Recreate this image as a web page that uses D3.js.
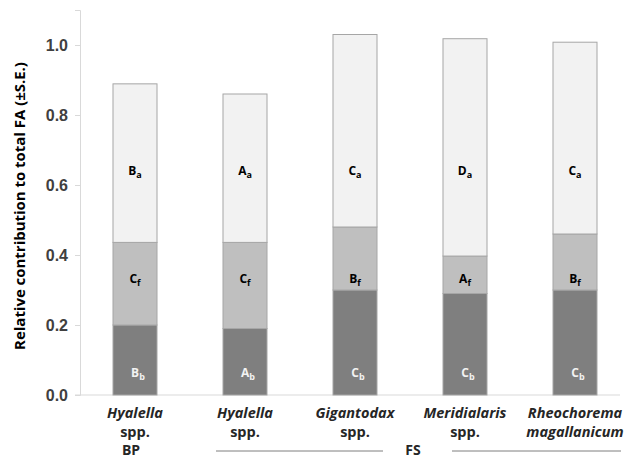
<!DOCTYPE html>
<html lang="en">
  <head>
    <meta charset="UTF-8" />
    <title>FA contribution</title>
    <style>
      body { margin: 0; background: #fff; }
      svg { display: block; font-family: "Open Sans", sans-serif; }
    </style>
  </head>
  <body>
    <div class="container"></div>
    <script src="https://d3js.org/d3.v7.min.js"></script>
    <script>
      const taxa = [
        ["Hyalella", "spp."],
        ["Hyalella", "spp."],
        ["Gigantodax", "spp."],
        ["Meridialaris", "spp."],
        ["Rheochorema", "magallanicum"]
      ];
      const bottomVals = [0.20, 0.19, 0.30, 0.29, 0.30];
      const middleVals = [0.236, 0.246, 0.18, 0.107, 0.16];
      const topVals = [0.453, 0.424, 0.55, 0.621, 0.548];
      const bottomLabels = [["B", "b"], ["A", "b"], ["C", "b"], ["C", "b"], ["C", "b"]];
      const middleLabels = [["C", "f"], ["C", "f"], ["B", "f"], ["A", "f"], ["B", "f"]];
      const topLabels = [["B", "a"], ["A", "a"], ["C", "a"], ["D", "a"], ["C", "a"]];
      const yTicks = [0, 0.2, 0.4, 0.6, 0.8, 1.0];

      const w = 629, h = 459;
      const left = 80, right = 630, bottom = 395;

      const svg = d3.select(".container").append("svg")
        .attr("width", w).attr("height", h);

      const xScale = d3.scaleBand()
        .domain(d3.range(taxa.length))
        .range([left, right])
        .paddingInner(0.6).paddingOuter(0.3);

      const yScale = d3.scaleLinear()
        .domain([0, 1.1])
        .range([bottom, bottom - 385]);

      // stacked data
      const rows = taxa.map((t, i) => ({ i, b: bottomVals[i], m: middleVals[i], t: topVals[i] }));
      const stack = d3.stack().keys(["b", "m", "t"])(rows);
      const fills = { b: "#7f7f7f", m: "#bfbfbf", t: "#f2f2f2" };

      // axes
      const yAxis = d3.axisLeft(yScale).tickValues(yTicks).tickFormat(d3.format(".1f")).tickSize(5).tickPadding(7);
      const gy = svg.append("g").attr("transform", "translate(" + left + ",0)").call(yAxis);
      gy.select(".domain").attr("stroke", "#d9d9d9");
      gy.selectAll(".tick line").attr("stroke", "#d9d9d9");
      gy.selectAll(".tick text")
        .attr("fill", "#404040").style("font-size", "16px").style("font-weight", "bold");

      svg.append("line")
        .attr("x1", left - 5).attr("x2", 620)
        .attr("y1", yScale(0)).attr("y2", yScale(0))
        .attr("stroke", "#d9d9d9");

      const title = svg.append("text")
        .attr("transform", "translate(25,206) rotate(-90)")
        .attr("text-anchor", "middle")
        .attr("fill", "#000")
        .style("font-size", "16px").style("font-weight", "bold")
        .text("Relative contribution to total FA (±S.E.)");
      // fit title to the length seen in the reference
      const tl = title.node().getComputedTextLength();
      title.style("font-size", (16 * 288 / tl) + "px");

      // bars
      svg.selectAll("g.layer").data(stack).enter().append("g")
        .attr("class", "layer")
        .attr("fill", d => fills[d.key])
        .selectAll("rect").data(d => d).enter().append("rect")
        .attr("x", d => xScale(d.data.i))
        .attr("width", xScale.bandwidth())
        .attr("y", d => yScale(d[1]))
        .attr("height", d => yScale(d[0]) - yScale(d[1]))
        .attr("stroke", "#a6a6a6")
        .attr("stroke-width", 1);

      // segment letters
      const addLetters = (labels, yVal, color, dx) => {
        const t = svg.append("g").selectAll("text").data(labels).enter().append("text")
          .attr("x", (d, i) => xScale(i) + xScale.bandwidth() / 2 + dx)
          .attr("y", yScale(yVal))
          .attr("text-anchor", "middle")
          .attr("fill", color)
          .style("font-size", "12px").style("font-weight", "bold");
        t.append("tspan").text(d => d[0]);
        t.append("tspan").attr("dy", 3).style("font-size", "9px").text(d => d[1]);
      };
      addLetters(topLabels, 0.629, "#000", 0);
      addLetters(middleLabels, 0.32, "#000", 0);
      addLetters(bottomLabels, 0.052, "#f2f2f2", 3);

      // category labels
      const cx = i => xScale(i) + xScale.bandwidth() / 2;
      svg.append("g").selectAll("text").data(taxa).enter().append("text")
        .attr("x", (d, i) => cx(i)).attr("y", 418)
        .attr("text-anchor", "middle").attr("fill", "#262626")
        .style("font-size", "14.5px").style("font-weight", "bold").style("font-style", "italic")
        .text(d => d[0]);
      svg.append("g").selectAll("text").data(taxa).enter().append("text")
        .attr("x", (d, i) => cx(i)).attr("y", 437)
        .attr("text-anchor", "middle").attr("fill", "#262626")
        .style("font-size", "14.5px").style("font-weight", "bold")
        .style("font-style", d => d[1] === "spp." ? "normal" : "italic")
        .text(d => d[1]);

      // group labels
      svg.append("text").attr("x", cx(0) - 4).attr("y", 455)
        .attr("text-anchor", "middle").attr("fill", "#262626")
        .style("font-size", "14px").style("font-weight", "bold").text("BP");
      const fsX = (cx(2) + cx(3)) / 2 + 3;
      svg.append("text").attr("x", fsX).attr("y", 455)
        .attr("text-anchor", "middle").attr("fill", "#262626")
        .style("font-size", "14px").style("font-weight", "bold").text("FS");
      svg.append("line").attr("x1", cx(1) - 29).attr("x2", fsX - 30)
        .attr("y1", 451).attr("y2", 451).attr("stroke", "#7f7f7f");
      svg.append("line").attr("x1", fsX + 39).attr("x2", cx(4) + 46)
        .attr("y1", 451).attr("y2", 451).attr("stroke", "#7f7f7f");
    </script>
  </body>
</html>
